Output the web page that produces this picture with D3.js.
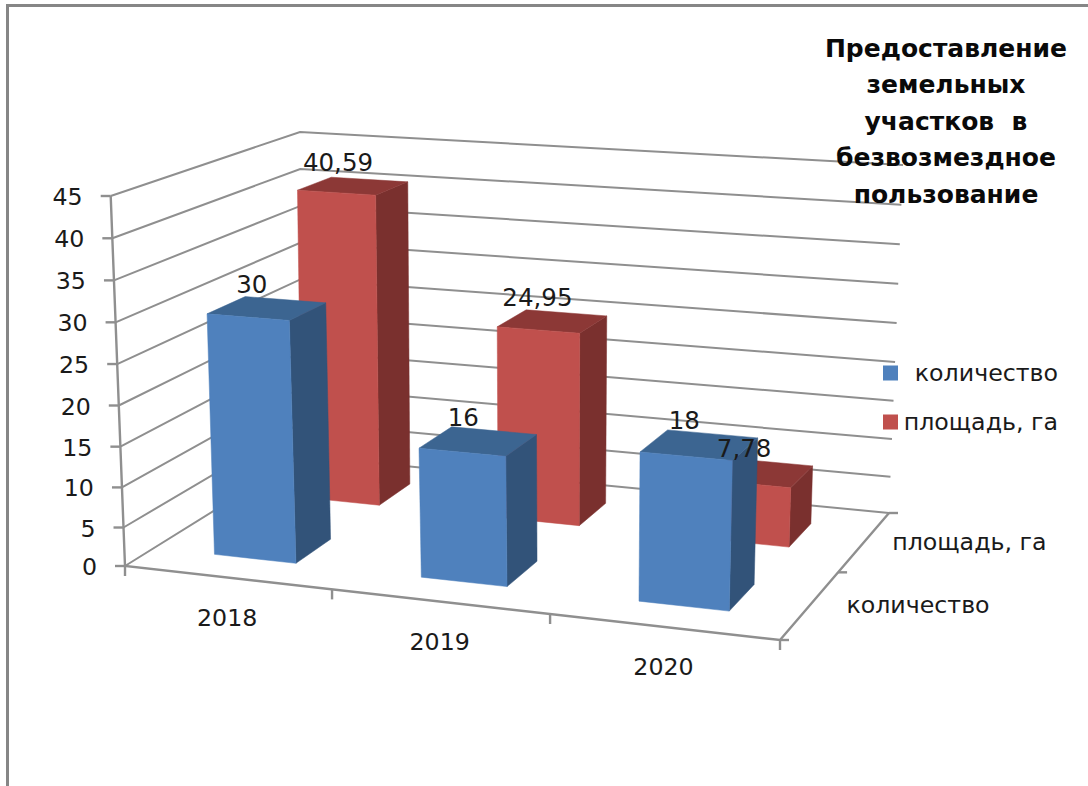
<!DOCTYPE html>
<html><head><meta charset="utf-8">
<script src="https://cdnjs.cloudflare.com/ajax/libs/d3/7.8.5/d3.min.js"></script>
<style>html,body{margin:0;background:#fff}svg{display:block}text{font-family:"DejaVu Sans",sans-serif;fill:#1a1a1a}</style>
</head><body><svg id="c" width="1088" height="786"></svg>
<script>
const categories=["2018","2019","2020"];
const seriesNames=["количество","площадь, га"];
const quantity=[30,16,18];
const area=[40.59,24.95,7.78];
const quantityLabels=["30","16","18"];
const areaLabels=["40,59","24,95","7,78"];
const valueTicks=[0,5,10,15,20,25,30,35,40,45];
const titleLines=["Предоставление","земельных","участков  в","безвозмездное","пользование"];

const svg=d3.select("#c");
// Homography from the unit square to a quad p00,p10,p11,p01
function quad(p00,p10,p11,p01){
  const [x0,y0]=p00,[x1,y1]=p10,[x2,y2]=p11,[x3,y3]=p01;
  const dx1=x1-x2,dx2=x3-x2,sx=x0-x1+x2-x3,dy1=y1-y2,dy2=y3-y2,sy=y0-y1+y2-y3;
  const den=dx1*dy2-dx2*dy1;
  const g=(sx*dy2-dx2*sy)/den,h=(dx1*sy-sx*dy1)/den;
  const a=x1-x0+g*x1,b=x3-x0+h*x3,d=y1-y0+g*y1,e=y3-y0+h*y3;
  return (u,v)=>{const w=g*u+h*v+1;return [(a*u+b*v+x0)/w,(d*u+e*v+y0)/w];};
}
const floor=quad([125,566],[780,640],[889,513],[302,456]);
const ceil=quad([110.7,196],[792,242],[903,165],[300,132]);
const valueScale=d3.scalePow().exponent(1.03).domain([0,45]).range([0,1]);
const catBand=d3.scaleBand().domain(categories).range([0,1]).paddingInner(.6).paddingOuter(.3);
const catStep=d3.scalePoint().domain(d3.range(categories.length+1)).range([0,1]);
const depthBand=d3.scaleBand().domain(seriesNames).range([0,1]).paddingInner(.6).paddingOuter(.3);
const depthStep=d3.scalePoint().domain(d3.range(seriesNames.length+1)).range([0,1]);
function P(u,v,val){
  const f=floor(u,v),c=ceil(u,v),t=valueScale(val);
  return [f[0]+(c[0]-f[0])*t,f[1]+(c[1]-f[1])*t];
}
const line=d3.line();
const GRID="#8f8f8f";
// frame
svg.append("path").attr("d","M7.5,786V5.5H1088").attr("fill","none").attr("stroke","#868686").attr("stroke-width",3);
// walls grid
const grid=svg.append("g").attr("fill","none").attr("stroke",GRID).attr("stroke-width",2);
valueTicks.forEach(t=>{
  grid.append("path").attr("d",line([P(0,0,t),P(0,1,t),P(1,1,t)]));
});
// axes
const ax=svg.append("g").attr("fill","none").attr("stroke",GRID).attr("stroke-width",2.4);
ax.append("path").attr("d",line([P(0,0,45),P(0,0,0),P(1,0,0),P(1,1,0)]));
valueTicks.forEach(t=>{const p=P(0,0,t);ax.append("path").attr("d",line([p,[p[0]-10,p[1]]]));});
catStep.domain().forEach(i=>{const p=P(catStep(i),0,0);ax.append("path").attr("d",line([p,[p[0],p[1]+10]]));});
depthStep.domain().forEach(i=>{const p=P(1,depthStep(i),0);ax.append("path").attr("d",line([p,[p[0]+9,p[1]]]));});
// bars
const palettes=[{front:"#4f81bd",side:"#325379",top:"#3c6591"},{front:"#c0504d",side:"#7a302e",top:"#8c3836"}];
const barsG=svg.append("g");
const seriesRows=[quantity,area];
[1,0].forEach(s=>{
  const name=seriesNames[s],v0=depthBand(name),v1=v0+depthBand.bandwidth();
  const rows=categories.map((c,i)=>({c,val:seriesRows[s][i]}));
  const g=barsG.append("g");
  g.selectAll("g").data(rows).join("g").each(function(d){
    const u0=catBand(d.c),u1=u0+catBand.bandwidth(),h=d.val,e=d3.select(this);
    const face=(pts,col)=>e.append("path").attr("d",line(pts)+"Z").attr("fill",col).attr("stroke",col).attr("stroke-width",.5);
    face([P(u1,v0,0),P(u1,v1,0),P(u1,v1,h),P(u1,v0,h)],palettes[s].side);
    face([P(u0,v0,h),P(u1,v0,h),P(u1,v1,h),P(u0,v1,h)],palettes[s].top);
    face([P(u0,v0,0),P(u1,v0,0),P(u1,v0,h),P(u0,v0,h)],palettes[s].front);
  });
});
// text helper
const T=(x,y,s,anchor,size,weight)=>svg.append("text").attr("x",x).attr("y",y).attr("text-anchor",anchor||"middle")
  .attr("dominant-baseline","central").attr("font-size",size||23.7).attr("font-weight",weight||400).attr("xml:space","preserve").style("white-space","pre").text(s);
// value tick labels
valueTicks.forEach(t=>{const p=P(0,0,t);T(p[0]-28,p[1]+1,String(t),"end");});
// category labels
categories.forEach((c,i)=>{const p=P(catStep(i)+catStep.step()/2,0,0);T(p[0],p[1]+40,c);});
// depth labels
seriesNames.forEach((n,i)=>{const p=P(1,depthStep(i)+depthStep.step()/2,0);T(p[0]+(i?105:108),p[1],n);});
// data labels
[1,0].forEach(s=>{
  const name=seriesNames[s],vm=depthBand(name)+depthBand.bandwidth()/2;
  const labels=s?areaLabels:quantityLabels;
  categories.forEach((c,i)=>{
    const um=catBand(c)+catBand.bandwidth()/2,p=P(um,vm,seriesRows[s][i]);
    T(p[0]-15,p[1]-24,labels[i],"middle",24.5);
  });
});
// legend
const legendY=d3.scalePoint().domain(seriesNames).range([373,422]);
seriesNames.forEach((n,i)=>{
  const y=legendY(n);
  svg.append("rect").attr("x",883).attr("y",y-7.5).attr("width",15).attr("height",15).attr("fill",palettes[i].front);
  T(1058,y,n,"end");
});
// title
titleLines.forEach((l,i)=>T(946,48+i*36.5,l,"middle",25,700).style("fill","#0a0a0a"));
</script></body></html>
